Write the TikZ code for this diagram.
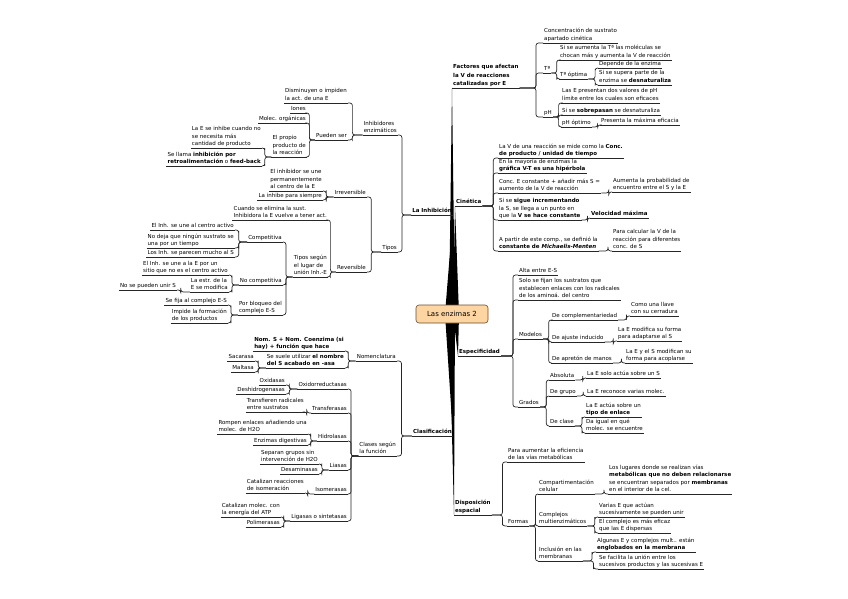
\documentclass[tikz,border=0pt]{standalone}
\usepackage{fontspec}
\setmainfont{DejaVu Sans}
\usetikzlibrary{backgrounds,calc}

\definecolor{rootfill}{RGB}{252,213,163}
\definecolor{rootline}{RGB}{110,75,40}

\tikzset{
  uline/.style={draw=black!85, line width=0.7pt},
  topic/.style={inner xsep=1pt, inner ysep=1.2pt, text depth=1.2pt, align=left,
    font=\fontsize{5.5}{7.4}\selectfont,
    append after command={(\tikzlastnode.south west) edge[uline] (\tikzlastnode.south east)}},
  rnode/.style={topic, anchor=south west},
  lnode/.style={topic, anchor=south east},
  mainbranch/.style={font=\fontsize{5.5}{8.2}\selectfont\bfseries},
  rootbox/.style={draw=rootline, fill=rootfill, line width=0.6pt, rounded corners=3pt,
    minimum width=72pt, minimum height=18pt, font=\fontsize{7}{8}\selectfont},
  rc/.style={uline, rounded corners=2.5pt,
    to path={-| ($(\tikztostart)!0.7!(\tikztotarget)$) |- (\tikztotarget)}},
  lc/.style={rc},
  trunk/.style={fill=black}
}

\begin{document}
\begin{tikzpicture}[x=1pt, y=-1pt]
\useasboundingbox (0,0) rectangle (848,599);

\node[rootbox] (root) at (452,314) {Las enzimas 2};

\node[rnode, mainbranch] (fact) at (452,88) {Factores que afectan\\la V de reacciones\\catalizadas por E};
\node[rnode] (conc) at (543,43) {Concentración de sustrato\\apartado cinética};
\node[rnode] (temp) at (543,73) {Tª};
\node[rnode] (tsube) at (559,60) {Si se aumenta la Tª las moléculas se\\chocan más y aumenta la V de reacción};
\node[rnode] (topt) at (559,79) {Tª óptima};
\node[rnode] (tdep) at (598,68) {Depende de la enzima};
\node[rnode] (tsup) at (598,85) {Si se supera parte de la\\enzima se \textbf{desnaturaliza}};
\node[rnode] (ph) at (543,117) {pH};
\node[rnode] (phlim) at (561,103) {Las E presentan  dos valores de pH\\límite entre los cuales son eficaces};
\node[rnode] (phsob) at (561,115) {Si se \textbf{sobrepasan}  se desnaturaliza};
\node[rnode] (phopt) at (561,127) {pH óptimo};
\node[rnode] (phmax) at (600,125) {Presenta la máxima eficacia};

\node[rnode, mainbranch] (cin) at (455,206) {Cinética};
\node[rnode] (cinv) at (498,158) {La V de una reacción se mide como la  \textbf{Conc.}\\\textbf{de producto / unidad de tiempo}};
\node[rnode] (cinh) at (498,173) {En la mayoría de enzimas la\\\textbf{gráfica V-T es una hipérbola}};
\node[rnode] (cinc) at (498,193) {Conc. E constante + añadir más S =\\aumento de la V de reacción};
\node[rnode] (cinp) at (612,192) {Aumenta la probabilidad de\\encuentro entre el S y la E};
\node[rnode] (cins) at (498,220) {Si se \textbf{sigue incrementando}\\la S, se llega a un punto en\\que la \textbf{V se hace constante}};
\node[rnode] (cinmax) at (590,218) {\textbf{Velocidad máxima}};
\node[rnode] (cinm) at (498,251) {A partir de este comp., se definió la\\\textbf{constante de \textit{Michaelis-Menten}}};
\node[rnode] (cincal) at (612,251) {Para calcular la V de la\\reacción para diferentes\\conc. de S};

\node[rnode, mainbranch] (esp) at (458,356) {Especificidad};
\node[rnode] (alta) at (518,275) {Alta entre E-S};
\node[rnode] (solo) at (518,300) {Solo se fijan los sustratos que\\establecen enlaces con los radicales\\de los aminoá. del centro};
\node[rnode] (mod) at (518,339) {Modelos};
\node[rnode] (comp) at (551,320) {De complementariedad};
\node[rnode] (llave) at (630,316) {Como una llave\\con su cerradura};
\node[rnode] (ajus) at (551,342) {De ajuste inducido};
\node[rnode] (adap) at (617,341) {La E modifica su forma\\para adaptarse al S};
\node[rnode] (apre) at (551,363) {De apretón de manos};
\node[rnode] (acop) at (625,363) {La E y el S modifican su\\forma para acoplarse};
\node[rnode] (grad) at (518,407) {Grados};
\node[rnode] (abs) at (549,380) {Absoluta};
\node[rnode] (abss) at (586,378) {La E solo actúa sobre  un S};
\node[rnode] (grupo) at (549,396) {De grupo};
\node[rnode] (grupm) at (586,396) {La E reconoce varias molec.};
\node[rnode] (clase) at (549,426) {De clase};
\node[rnode] (clenl) at (585,417) {La E actúa sobre un\\\textbf{tipo de enlace}};
\node[rnode] (clmol) at (585,433) {Da igual en qué\\molec. se encuentre};

\node[rnode, mainbranch] (disp) at (454,515) {Disposición\\espacial};
\node[rnode] (efic) at (507,462) {Para aumentar la eficiencia\\de las vías metabólicas};
\node[rnode] (formas) at (507,526) {Formas};
\node[rnode] (compart) at (538,494) {Compartimentación\\celular};
\node[rnode] (lug) at (608,494) {Los lugares donde se realizan  vías\\\textbf{metabólicas que no deben relacionarse}\\se encuentran separados por  \textbf{membranas}\\en el interior de la cel.};
\node[rnode] (multi) at (538,526) {Complejos\\multienzimáticos};
\node[rnode] (varias) at (598,517) {Varias E que actúan\\sucesivamente se pueden unir};
\node[rnode] (efz) at (598,533) {El complejo es más eficaz\\que las E dispersas};
\node[rnode] (incl) at (538,561) {Inclusión en las\\membranas};
\node[rnode] (alg) at (596,552) {Algunas E y complejos mult.. están\\\textbf{englobados en la membrana}};
\node[rnode] (facil) at (598,569) {Se facilita la unión entre los\\sucesivos productos y las sucesivas E};

\node[lnode, mainbranch] (inh) at (453,215) {La Inhibición};
\node[lnode] (inhib) at (398,135) {Inhibidores\\enzimáticos};
\node[lnode] (dism) at (348,103) {Disminuyen o impiden\\la act. de una E};
\node[lnode] (pued) at (348,140) {Pueden ser};
\node[lnode] (iones) at (307,113) {Iones};
\node[lnode] (molec) at (307,123) {Molec. orgánicas};
\node[lnode] (prop) at (307,157) {El propio\\producto de\\la reacción};
\node[lnode] (cuando) at (262,148) {La E se inhibe cuando no\\se necesita más\\cantidad de producto};
\node[lnode] (llama) at (262,166) {Se llama  \textbf{inhibición por}\\\textbf{retroalimentación}  o \textbf{feed-back}};
\node[lnode] (tipos) at (398,252) {Tipos};
\node[lnode] (irrev) at (367,197) {Irreversible};
\node[lnode] (perm) at (323,191) {El inhibidor se une\\permanentemente\\al centro de la E};
\node[lnode] (siempre) at (323,200) {La inhibe para siempre};
\node[lnode] (rev) at (367,272) {Reversible};
\node[lnode] (cuandos) at (328,220) {Cuando  se elimina la sust.\\Inhibidora la E vuelve a tener act.};
\node[lnode] (tsegun) at (328,277) {Tipos según\\el lugar de\\unión Inh.-E};
\node[lnode] (compet) at (283,242) {Competitiva};
\node[lnode] (cact) at (235,230) {El Inh. se une al centro activo};
\node[lnode] (ndeja) at (235,248) {No deja que ningún sustrato se\\una por un tiempo};
\node[lnode] (parec) at (235,257) {Los Inh. se parecen mucho al S};
\node[lnode] (nocomp) at (283,285) {No competitiva};
\node[lnode] (sitio) at (229,275) {El Inh. se une a la E por un\\sitio que no es el centro activo};
\node[lnode] (estr) at (229,292) {La estr. de la\\E se modifica};
\node[lnode] (nounir) at (177,290) {No se pueden unir S};
\node[lnode] (bloq) at (283,315) {Por bloqueo del\\complejo E-S};
\node[lnode] (fija) at (228,305) {Se fija al complejo E-S};
\node[lnode] (impide) at (228,323) {Impide la formación\\de los productos};

\node[lnode, mainbranch] (cls) at (453,436) {Clasificación};
\node[lnode] (nomen) at (397,361) {Nomenclatura};
\node[lnode] (noms) at (345,351) {\textbf{Nom. S + Nom. Coenzima (si}\\\textbf{hay) + función que hace}};
\node[lnode] (suele) at (345,368) {Se suele utilizar  \textbf{el nombre}\\\textbf{del S acabado en -asa}};
\node[lnode] (sacar) at (255,361) {Sacarasa};
\node[lnode] (malt) at (255,372) {Maltasa};
\node[lnode] (clases) at (397,456) {Clases según\\la función};
\node[lnode] (oxido) at (348,389) {Oxidorreductasas};
\node[lnode] (oxid) at (286,385) {Oxidasas};
\node[lnode] (deshid) at (286,394) {Deshidrogenasas};
\node[lnode] (trans) at (348,413) {Transferasas};
\node[lnode] (transf) at (305,412) {Transfieren radicales\\entre sustratos};
\node[lnode] (hidro) at (348,441) {Hidrolasas};
\node[lnode] (rompen) at (308,434) {Rompen enlaces añadiendo una\\molec. de H2O};
\node[lnode] (digest) at (308,445) {Enzimas digestivas};
\node[lnode] (liasas) at (348,470) {Liasas};
\node[lnode] (separan) at (319,464) {Separan grupos sin\\intervención de H2O};
\node[lnode] (desam) at (319,474) {Desaminasas};
\node[lnode] (isom) at (348,494) {Isomerasas};
\node[lnode] (catal) at (305,493) {Catalizan reacciones\\de isomeración};
\node[lnode] (ligasas) at (348,521) {Ligasas o sintetasas};
\node[lnode] (atp) at (281,517) {Catalizan molec. con\\la energía del ATP};
\node[lnode] (polim) at (281,527) {Polimerasas};

\path (fact.south east) edge[rc] (conc.south west) edge[rc] (temp.south west) edge[rc] (ph.south west);
\path (temp.south east) edge[rc] (tsube.south west) edge[rc] (topt.south west);
\path (topt.south east) edge[rc] (tdep.south west) edge[rc] (tsup.south west);
\path (ph.south east) edge[rc] (phlim.south west) edge[rc] (phsob.south west) edge[rc] (phopt.south west);
\path (phopt.south east) edge[rc] (phmax.south west);
\path (cin.south east) edge[rc] (cinv.south west) edge[rc] (cinh.south west) edge[rc] (cinc.south west)
  edge[rc] (cins.south west) edge[rc] (cinm.south west);
\path (cinc.south east) edge[rc] (cinp.south west);
\path (cins.south east) edge[rc] (cinmax.south west);
\path (cinm.south east) edge[rc] (cincal.south west);
\path (esp.south east) edge[rc] (alta.south west) edge[rc] (solo.south west) edge[rc] (mod.south west) edge[rc] (grad.south west);
\path (mod.south east) edge[rc] (comp.south west) edge[rc] (ajus.south west) edge[rc] (apre.south west);
\path (comp.south east) edge[rc] (llave.south west);
\path (ajus.south east) edge[rc] (adap.south west);
\path (apre.south east) edge[rc] (acop.south west);
\path (grad.south east) edge[rc] (abs.south west) edge[rc] (grupo.south west) edge[rc] (clase.south west);
\path (abs.south east) edge[rc] (abss.south west);
\path (grupo.south east) edge[rc] (grupm.south west);
\path (clase.south east) edge[rc] (clenl.south west) edge[rc] (clmol.south west);
\path (disp.south east) edge[rc] (efic.south west) edge[rc] (formas.south west);
\path (formas.south east) edge[rc] (compart.south west) edge[rc] (multi.south west) edge[rc] (incl.south west);
\path (compart.south east) edge[rc] (lug.south west);
\path (multi.south east) edge[rc] (varias.south west) edge[rc] (efz.south west);
\path (incl.south east) edge[rc] (alg.south west) edge[rc] (facil.south west);

\path (inh.south west) edge[lc] (inhib.south east) edge[lc] (tipos.south east);
\path (inhib.south west) edge[lc] (dism.south east) edge[lc] (pued.south east);
\path (pued.south west) edge[lc] (iones.south east) edge[lc] (molec.south east) edge[lc] (prop.south east);
\path (prop.south west) edge[lc] (cuando.south east) edge[lc] (llama.south east);
\path (tipos.south west) edge[lc] (irrev.south east) edge[lc] (rev.south east);
\path (irrev.south west) edge[lc] (perm.south east) edge[lc] (siempre.south east);
\path (rev.south west) edge[lc] (cuandos.south east) edge[lc] (tsegun.south east);
\path (tsegun.south west) edge[lc] (compet.south east) edge[lc] (nocomp.south east) edge[lc] (bloq.south east);
\path (compet.south west) edge[lc] (cact.south east) edge[lc] (ndeja.south east) edge[lc] (parec.south east);
\path (nocomp.south west) edge[lc] (sitio.south east) edge[lc] (estr.south east);
\path (estr.south west) edge[lc] (nounir.south east);
\path (bloq.south west) edge[lc] (fija.south east) edge[lc] (impide.south east);
\path (cls.south west) edge[lc] (nomen.south east) edge[lc] (clases.south east);
\path (nomen.south west) edge[lc] (noms.south east) edge[lc] (suele.south east);
\path (suele.south west) edge[lc] (sacar.south east) edge[lc] (malt.south east);
\path (clases.south west) edge[lc] (oxido.south east) edge[lc] (trans.south east) edge[lc] (hidro.south east)
  edge[lc] (liasas.south east) edge[lc] (isom.south east) edge[lc] (ligasas.south east);
\path (oxido.south west) edge[lc] (oxid.south east) edge[lc] (deshid.south east);
\path (trans.south west) edge[lc] (transf.south east);
\path (hidro.south west) edge[lc] (rompen.south east) edge[lc] (digest.south east);
\path (liasas.south west) edge[lc] (separan.south east) edge[lc] (desam.south east);
\path (isom.south west) edge[lc] (catal.south east);
\path (ligasas.south west) edge[lc] (atp.south east) edge[lc] (polim.south east);

\begin{scope}[on background layer]
\fill[trunk] ([xshift=-7pt]root.center) -- (inh.south east) -- ([xshift=-1pt]root.center) -- cycle;
\fill[trunk] ([xshift=-3pt]root.center) -- (fact.south west) -- ([xshift=3pt]root.center) -- cycle;
\fill[trunk] ([xshift=1pt]root.center) -- (cin.south west) -- ([xshift=7pt]root.center) -- cycle;
\fill[trunk] ([xshift=-7pt]root.center) -- (cls.south east) -- ([xshift=-1pt]root.center) -- cycle;
\fill[trunk] ([xshift=-3pt]root.center) -- (disp.south west) -- ([xshift=3pt]root.center) -- cycle;
\fill[trunk] ([xshift=1pt]root.center) -- (esp.south west) -- ([xshift=7pt]root.center) -- cycle;
\end{scope}
\end{tikzpicture}
\end{document}
